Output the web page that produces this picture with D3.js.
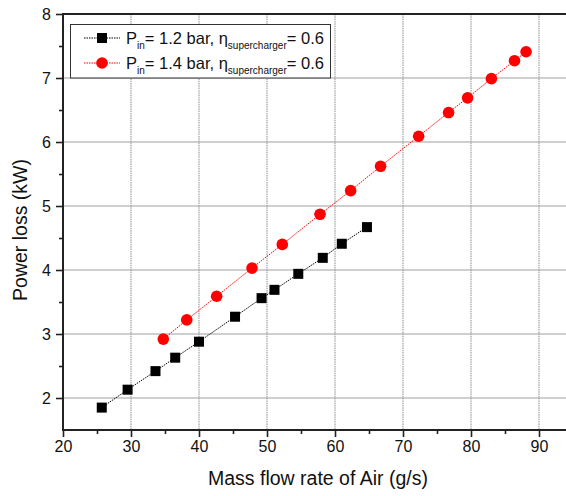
<!DOCTYPE html>
<html>
<head>
<meta charset="utf-8">
<script src="https://cdn.jsdelivr.net/npm/d3@7"></script>
<style>
  body { margin: 0; background: #fff; }
  svg { display: block; font-family: "Liberation Sans", Arial, sans-serif; }
</style>
</head>
<body>
<div id="chart"></div>
<script>
// Data
const flow12 = [25.7, 29.5, 33.6, 36.5, 40.0, 45.3, 49.2, 51.1, 54.6, 58.2, 61.0, 64.7];
const loss12 = [1.85, 2.13, 2.42, 2.63, 2.88, 3.27, 3.56, 3.69, 3.94, 4.19, 4.41, 4.67];
const flow14 = [34.75, 38.2, 42.6, 47.8, 52.25, 57.8, 62.3, 66.7, 72.3, 76.7, 79.5, 83.0, 86.4, 88.1];
const loss14 = [2.92, 3.22, 3.59, 4.03, 4.40, 4.87, 5.24, 5.62, 6.09, 6.46, 6.69, 6.99, 7.27, 7.41];
const xTicks = [20, 30, 40, 50, 60, 70, 80, 90];
const yTicks = [2, 3, 4, 5, 6, 7, 8];

const W = 566, H = 496;
const margin = { top: 14, right: 0, bottom: 66, left: 63 };

const svg = d3.select('#chart').append('svg')
    .attr('width', W)
    .attr('height', H);

const x = d3.scaleLinear().domain([20, 94]).range([margin.left, margin.left + 74 * 6.8]);
const y = d3.scaleLinear().domain([1.5, 8]).range([H - margin.bottom, margin.top]);

// Grid
svg.append('g').selectAll('line')
    .data(xTicks.slice(1))
    .enter().append('line')
    .attr('x1', d => x(d)).attr('x2', d => x(d))
    .attr('y1', y(8)).attr('y2', y(1.5))
    .attr('stroke', '#a0a0a0').attr('stroke-width', 1.2)
    .attr('stroke-dasharray', '1.5,0.8');

svg.append('g').selectAll('line')
    .data(yTicks.slice(0, -1))
    .enter().append('line')
    .attr('x1', x(20)).attr('x2', W)
    .attr('y1', d => y(d)).attr('y2', d => y(d))
    .attr('stroke', '#a0a0a0').attr('stroke-width', 1.2);

// Axes
const xAxis = d3.axisBottom(x).tickValues(xTicks).tickSize(7).tickPadding(4).tickFormat(d3.format('d'));
const xMinor = d3.axisBottom(x).tickValues(d3.range(25, 95, 10)).tickSize(4).tickFormat('');
const yAxis = d3.axisLeft(y).tickValues(yTicks).tickSize(7).tickPadding(5).tickFormat(d3.format('d'));
const yMinor = d3.axisLeft(y).tickValues(d3.range(2.5, 8, 1)).tickSize(4).tickFormat('');

function styleAxis(g) {
    g.select('.domain').remove();
    g.selectAll('line').attr('stroke', '#222').attr('stroke-width', 1.6);
    g.selectAll('text').attr('fill', '#111').style('font-size', '16px');
}

svg.append('g').attr('transform', `translate(0,${y(1.5)})`).call(xAxis).call(styleAxis);
svg.append('g').attr('transform', `translate(0,${y(1.5)})`).call(xMinor).call(styleAxis);
svg.append('g').attr('transform', `translate(${x(20)},0)`).call(yAxis).call(styleAxis);
svg.append('g').attr('transform', `translate(${x(20)},0)`).call(yMinor).call(styleAxis);

// Frame
svg.append('path')
    .attr('d', `M${W},${y(8)}H${x(20)}V${y(1.5)}H${W}`)
    .attr('fill', 'none')
    .attr('stroke', '#222')
    .attr('stroke-width', 2);

// Series
const series = [
    { xs: flow12, ys: loss12, color: '#000', shape: 'square' },
    { xs: flow14, ys: loss14, color: '#ff0000', shape: 'circle' }
];

const line = d3.line().x(d => x(d[0])).y(d => y(d[1]));

series.forEach(s => {
    const pts = s.xs.map((v, i) => [v, s.ys[i]]);
    svg.append('path')
        .datum(pts)
        .attr('d', line)
        .attr('fill', 'none')
        .attr('stroke', s.color)
        .attr('stroke-width', 1)
        .attr('stroke-dasharray', '1.5,1');
    if (s.shape === 'square') {
        svg.selectAll(null).data(pts).enter().append('rect')
            .attr('x', d => x(d[0]) - 5)
            .attr('y', d => y(d[1]) - 5)
            .attr('width', 10).attr('height', 10)
            .attr('fill', s.color);
    } else {
        svg.selectAll(null).data(pts).enter().append('circle')
            .attr('cx', d => x(d[0]))
            .attr('cy', d => y(d[1]))
            .attr('r', 5.8)
            .attr('fill', s.color);
    }
});

// Legend
const legend = svg.append('g');
legend.append('rect')
    .attr('x', 70.5).attr('y', 24.5)
    .attr('width', 260).attr('height', 53.5)
    .attr('fill', '#fff')
    .attr('stroke', '#333').attr('stroke-width', 1);

const rows = [
    { color: '#000', shape: 'square', p: '1.2', yy: 38 },
    { color: '#ff0000', shape: 'circle', p: '1.4', yy: 63 }
];
rows.forEach(r => {
    legend.append('line')
        .attr('x1', 84).attr('x2', 120)
        .attr('y1', r.yy).attr('y2', r.yy)
        .attr('stroke', r.color).attr('stroke-width', 1)
        .attr('stroke-dasharray', '1.5,1');
    if (r.shape === 'square') {
        legend.append('rect').attr('x', 97).attr('y', r.yy - 5)
            .attr('width', 10).attr('height', 10).attr('fill', r.color);
    } else {
        legend.append('circle').attr('cx', 102).attr('cy', r.yy)
            .attr('r', 5.8).attr('fill', r.color);
    }
    const t = legend.append('text')
        .attr('x', 126).attr('y', r.yy + 6)
        .attr('fill', '#111')
        .style('font-size', '16.5px');
    t.append('tspan').text('P');
    t.append('tspan').attr('dy', 5).style('font-size', '10px').text('in');
    t.append('tspan').attr('dy', -5).text(`= ${r.p} bar, η`);
    t.append('tspan').attr('dy', 5).style('font-size', '10px').text('supercharger');
    t.append('tspan').attr('dy', -5).text('= 0.6');
});

// Axis titles
svg.append('text')
    .attr('x', 318).attr('y', 485)
    .attr('text-anchor', 'middle')
    .attr('fill', '#111')
    .style('font-size', '19.5px')
    .text('Mass flow rate of Air (g/s)');

svg.append('text')
    .attr('transform', 'translate(27,230) rotate(-90)')
    .attr('text-anchor', 'middle')
    .attr('fill', '#111')
    .style('font-size', '19.5px')
    .text('Power loss (kW)');
</script>
</body>
</html>
